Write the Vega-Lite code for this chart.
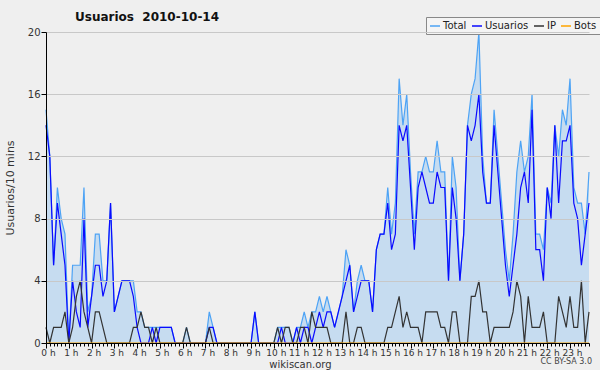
{
  "$schema": "https://vega.github.io/schema/vega-lite/v6.json",
  "autosize": "none",
  "width": 543,
  "height": 311,
  "padding": {"left": 46, "top": 32, "right": 11, "bottom": 27},
  "background": "#efefef",
  "config": {
    "view": {"stroke": null},
    "font": "DejaVu Sans",
    "axis": {"labelFont": "DejaVu Sans", "titleFont": "DejaVu Sans", "labelColor": "#333333", "titleColor": "#333333", "domainColor": "#000000", "tickColor": "#000000", "titleFontWeight": "normal"}
  },
  "title": {"text": "Usuarios\u00a0 2010-10-14", "anchor": "start", "frame": "group", "dx": 29, "dy": 17, "offset": 10, "fontSize": 12, "fontWeight": "bold", "font": "DejaVu Sans", "color": "#111111"},
  "datasets": {
    "serie": [
    {"i":0,"Total":15,"Usuarios":14,"IP":1,"Bots":0},{"i":1,"Total":12,"Usuarios":12,"IP":0,"Bots":0},{"i":2,"Total":5,"Usuarios":5,"IP":1,"Bots":0},{"i":3,"Total":10,"Usuarios":9,"IP":1,"Bots":0},{"i":4,"Total":8,"Usuarios":7,"IP":1,"Bots":0},{"i":5,"Total":7,"Usuarios":5,"IP":2,"Bots":0},{"i":6,"Total":0,"Usuarios":0,"IP":0,"Bots":0},{"i":7,"Total":5,"Usuarios":4,"IP":1,"Bots":0},{"i":8,"Total":5,"Usuarios":2,"IP":3,"Bots":0},{"i":9,"Total":5,"Usuarios":1,"IP":4,"Bots":0},
    {"i":10,"Total":10,"Usuarios":8,"IP":2,"Bots":0},{"i":11,"Total":2,"Usuarios":1,"IP":1,"Bots":0},{"i":12,"Total":3,"Usuarios":3,"IP":0,"Bots":0},{"i":13,"Total":7,"Usuarios":5,"IP":2,"Bots":0},{"i":14,"Total":7,"Usuarios":5,"IP":2,"Bots":0},{"i":15,"Total":4,"Usuarios":3,"IP":1,"Bots":0},{"i":16,"Total":4,"Usuarios":4,"IP":0,"Bots":0},{"i":17,"Total":9,"Usuarios":9,"IP":0,"Bots":0},{"i":18,"Total":2,"Usuarios":2,"IP":0,"Bots":0},{"i":19,"Total":3,"Usuarios":3,"IP":0,"Bots":0},
    {"i":20,"Total":4,"Usuarios":4,"IP":0,"Bots":0},{"i":21,"Total":4,"Usuarios":4,"IP":0,"Bots":0},{"i":22,"Total":4,"Usuarios":4,"IP":0,"Bots":0},{"i":23,"Total":4,"Usuarios":3,"IP":1,"Bots":0},{"i":24,"Total":2,"Usuarios":1,"IP":1,"Bots":0},{"i":25,"Total":2,"Usuarios":0,"IP":2,"Bots":0},{"i":26,"Total":1,"Usuarios":0,"IP":1,"Bots":0},{"i":27,"Total":1,"Usuarios":0,"IP":1,"Bots":0},{"i":28,"Total":1,"Usuarios":1,"IP":0,"Bots":0},{"i":29,"Total":1,"Usuarios":0,"IP":1,"Bots":0},
    {"i":30,"Total":1,"Usuarios":1,"IP":0,"Bots":0},{"i":31,"Total":1,"Usuarios":1,"IP":0,"Bots":0},{"i":32,"Total":1,"Usuarios":1,"IP":0,"Bots":0},{"i":33,"Total":1,"Usuarios":1,"IP":0,"Bots":0},{"i":34,"Total":0,"Usuarios":0,"IP":0,"Bots":0},{"i":35,"Total":0,"Usuarios":0,"IP":0,"Bots":0},{"i":36,"Total":0,"Usuarios":0,"IP":0,"Bots":0},{"i":37,"Total":1,"Usuarios":0,"IP":1,"Bots":0},{"i":38,"Total":0,"Usuarios":0,"IP":0,"Bots":0},{"i":39,"Total":0,"Usuarios":0,"IP":0,"Bots":0},
    {"i":40,"Total":0,"Usuarios":0,"IP":0,"Bots":0},{"i":41,"Total":0,"Usuarios":0,"IP":0,"Bots":0},{"i":42,"Total":0,"Usuarios":0,"IP":0,"Bots":0},{"i":43,"Total":2,"Usuarios":1,"IP":1,"Bots":0},{"i":44,"Total":1,"Usuarios":1,"IP":0,"Bots":0},{"i":45,"Total":0,"Usuarios":0,"IP":0,"Bots":0},{"i":46,"Total":0,"Usuarios":0,"IP":0,"Bots":0},{"i":47,"Total":0,"Usuarios":0,"IP":0,"Bots":0},{"i":48,"Total":0,"Usuarios":0,"IP":0,"Bots":0},{"i":49,"Total":0,"Usuarios":0,"IP":0,"Bots":0},
    {"i":50,"Total":0,"Usuarios":0,"IP":0,"Bots":0},{"i":51,"Total":0,"Usuarios":0,"IP":0,"Bots":0},{"i":52,"Total":0,"Usuarios":0,"IP":0,"Bots":0},{"i":53,"Total":0,"Usuarios":0,"IP":0,"Bots":0},{"i":54,"Total":0,"Usuarios":0,"IP":0,"Bots":0},{"i":55,"Total":2,"Usuarios":2,"IP":0,"Bots":0},{"i":56,"Total":0,"Usuarios":0,"IP":0,"Bots":0},{"i":57,"Total":0,"Usuarios":0,"IP":0,"Bots":0},{"i":58,"Total":0,"Usuarios":0,"IP":0,"Bots":0},{"i":59,"Total":0,"Usuarios":0,"IP":0,"Bots":0},
    {"i":60,"Total":0,"Usuarios":0,"IP":0,"Bots":0},{"i":61,"Total":1,"Usuarios":0,"IP":1,"Bots":0},{"i":62,"Total":1,"Usuarios":1,"IP":0,"Bots":0},{"i":63,"Total":1,"Usuarios":0,"IP":1,"Bots":0},{"i":64,"Total":1,"Usuarios":0,"IP":1,"Bots":0},{"i":65,"Total":0,"Usuarios":0,"IP":0,"Bots":0},{"i":66,"Total":1,"Usuarios":1,"IP":0,"Bots":0},{"i":67,"Total":1,"Usuarios":0,"IP":1,"Bots":0},{"i":68,"Total":2,"Usuarios":1,"IP":1,"Bots":0},{"i":69,"Total":1,"Usuarios":1,"IP":0,"Bots":0},
    {"i":70,"Total":2,"Usuarios":0,"IP":2,"Bots":0},{"i":71,"Total":2,"Usuarios":1,"IP":1,"Bots":0},{"i":72,"Total":3,"Usuarios":2,"IP":1,"Bots":0},{"i":73,"Total":2,"Usuarios":1,"IP":1,"Bots":0},{"i":74,"Total":3,"Usuarios":2,"IP":1,"Bots":0},{"i":75,"Total":2,"Usuarios":2,"IP":0,"Bots":0},{"i":76,"Total":1,"Usuarios":1,"IP":0,"Bots":0},{"i":77,"Total":2,"Usuarios":2,"IP":0,"Bots":0},{"i":78,"Total":3,"Usuarios":3,"IP":0,"Bots":0},{"i":79,"Total":6,"Usuarios":4,"IP":2,"Bots":0},
    {"i":80,"Total":5,"Usuarios":5,"IP":0,"Bots":0},{"i":81,"Total":2,"Usuarios":2,"IP":0,"Bots":0},{"i":82,"Total":4,"Usuarios":3,"IP":1,"Bots":0},{"i":83,"Total":5,"Usuarios":4,"IP":1,"Bots":0},{"i":84,"Total":4,"Usuarios":4,"IP":0,"Bots":0},{"i":85,"Total":4,"Usuarios":4,"IP":0,"Bots":0},{"i":86,"Total":2,"Usuarios":2,"IP":0,"Bots":0},{"i":87,"Total":6,"Usuarios":6,"IP":0,"Bots":0},{"i":88,"Total":7,"Usuarios":7,"IP":0,"Bots":0},{"i":89,"Total":7,"Usuarios":7,"IP":0,"Bots":0},
    {"i":90,"Total":10,"Usuarios":9,"IP":1,"Bots":0},{"i":91,"Total":7,"Usuarios":6,"IP":1,"Bots":0},{"i":92,"Total":9,"Usuarios":7,"IP":2,"Bots":0},{"i":93,"Total":17,"Usuarios":14,"IP":3,"Bots":0},{"i":94,"Total":14,"Usuarios":13,"IP":1,"Bots":0},{"i":95,"Total":16,"Usuarios":14,"IP":2,"Bots":0},{"i":96,"Total":11,"Usuarios":10,"IP":1,"Bots":0},{"i":97,"Total":7,"Usuarios":6,"IP":1,"Bots":0},{"i":98,"Total":11,"Usuarios":10,"IP":1,"Bots":0},{"i":99,"Total":11,"Usuarios":11,"IP":0,"Bots":0},
    {"i":100,"Total":12,"Usuarios":10,"IP":2,"Bots":0},{"i":101,"Total":11,"Usuarios":9,"IP":2,"Bots":0},{"i":102,"Total":11,"Usuarios":9,"IP":2,"Bots":0},{"i":103,"Total":13,"Usuarios":11,"IP":2,"Bots":0},{"i":104,"Total":11,"Usuarios":10,"IP":1,"Bots":0},{"i":105,"Total":11,"Usuarios":10,"IP":1,"Bots":0},{"i":106,"Total":4,"Usuarios":4,"IP":0,"Bots":0},{"i":107,"Total":12,"Usuarios":10,"IP":2,"Bots":0},{"i":108,"Total":10,"Usuarios":8,"IP":2,"Bots":0},{"i":109,"Total":4,"Usuarios":4,"IP":0,"Bots":0},
    {"i":110,"Total":7,"Usuarios":7,"IP":0,"Bots":0},{"i":111,"Total":14,"Usuarios":14,"IP":0,"Bots":0},{"i":112,"Total":16,"Usuarios":13,"IP":3,"Bots":0},{"i":113,"Total":17,"Usuarios":14,"IP":3,"Bots":0},{"i":114,"Total":20,"Usuarios":16,"IP":4,"Bots":0},{"i":115,"Total":12,"Usuarios":11,"IP":2,"Bots":0},{"i":116,"Total":9,"Usuarios":9,"IP":2,"Bots":0},{"i":117,"Total":9,"Usuarios":9,"IP":0,"Bots":0},{"i":118,"Total":15,"Usuarios":14,"IP":1,"Bots":0},{"i":119,"Total":12,"Usuarios":11,"IP":1,"Bots":0},
    {"i":120,"Total":9,"Usuarios":8,"IP":1,"Bots":0},{"i":121,"Total":6,"Usuarios":5,"IP":1,"Bots":0},{"i":122,"Total":4,"Usuarios":3,"IP":1,"Bots":0},{"i":123,"Total":7,"Usuarios":5,"IP":2,"Bots":0},{"i":124,"Total":11,"Usuarios":7,"IP":4,"Bots":0},{"i":125,"Total":13,"Usuarios":10,"IP":3,"Bots":0},{"i":126,"Total":11,"Usuarios":11,"IP":0,"Bots":0},{"i":127,"Total":12,"Usuarios":9,"IP":3,"Bots":0},{"i":128,"Total":16,"Usuarios":15,"IP":1,"Bots":0},{"i":129,"Total":7,"Usuarios":6,"IP":1,"Bots":0},
    {"i":130,"Total":7,"Usuarios":6,"IP":1,"Bots":0},{"i":131,"Total":6,"Usuarios":4,"IP":2,"Bots":0},{"i":132,"Total":10,"Usuarios":10,"IP":0,"Bots":0},{"i":133,"Total":9,"Usuarios":8,"IP":0,"Bots":0},{"i":134,"Total":14,"Usuarios":14,"IP":0,"Bots":0},{"i":135,"Total":12,"Usuarios":9,"IP":3,"Bots":0},{"i":136,"Total":15,"Usuarios":13,"IP":2,"Bots":0},{"i":137,"Total":14,"Usuarios":13,"IP":1,"Bots":0},{"i":138,"Total":17,"Usuarios":14,"IP":3,"Bots":0},{"i":139,"Total":10,"Usuarios":9,"IP":1,"Bots":0},
    {"i":140,"Total":9,"Usuarios":8,"IP":1,"Bots":0},{"i":141,"Total":9,"Usuarios":5,"IP":4,"Bots":0},{"i":142,"Total":7,"Usuarios":7,"IP":0,"Bots":0},{"i":143,"Total":11,"Usuarios":9,"IP":2,"Bots":0}
    ]
  },
  "data": {"name": "serie"},
  "encoding": {
    "x": {"field": "i", "type": "quantitative", "scale": {"domain": [0, 143], "nice": false, "zero": false},
      "axis": {"values": [0,1,2,3,4,5,6,7,8,9,10,11,12,13,14,15,16,17,18,19,20,21,22,23,24,25,26,27,28,29,30,31,32,33,34,35,36,37,38,39,40,41,42,43,44,45,46,47,48,49,50,51,52,53,54,55,56,57,58,59,60,61,62,63,64,65,66,67,68,69,70,71,72,73,74,75,76,77,78,79,80,81,82,83,84,85,86,87,88,89,90,91,92,93,94,95,96,97,98,99,100,101,102,103,104,105,106,107,108,109,110,111,112,113,114,115,116,117,118,119,120,121,122,123,124,125,126,127,128,129,130,131,132,133,134,135,136,137,138,139,140,141,142,143],
        "labelExpr": "datum.value % 6 == 0 ? (datum.value / 6) + ' h' : ''",
        "labelOverlap": false, "labelFlush": false, "labelBound": false, "labelSeparation": 0,
        "tickSize": {"condition": {"test": "datum.value % 6 == 0", "value": 5}, "value": 3},
        "labelFontSize": 9, "labelOffset": 2, "labelPadding": 0, "grid": false, "zindex": 2,
        "title": "wikiscan.org", "titleFontSize": 10, "titlePadding": 2, "titleX": 254}}
  },
  "layer": [
    {
      "mark": {"type": "area", "color": "#c6dcf0", "opacity": 1},
      "encoding": {
        "y": {"field": "Total", "type": "quantitative", "scale": {"domain": [0, 20], "nice": false},
          "axis": {"values": [0,1,2,3,4,5,6,7,8,9,10,11,12,13,14,15,16,17,18,19,20],
            "labelExpr": "datum.value % 4 == 0 ? datum.label : ''",
            "tickSize": {"condition": {"test": "datum.value % 4 == 0", "value": 5}, "value": 3},
            "grid": true, "gridColor": "#c8c8c8",
            "gridOpacity": {"condition": {"test": "datum.value % 4 == 0 && datum.value > 0", "value": 1}, "value": 0},
            "labelFontSize": 10, "labelPadding": 1, "labelOverlap": false, "zindex": 2,
            "title": "Usuarios/10 mins", "titleFontSize": 11, "titlePadding": 12}}
      }
    },
    {
      "transform": [{"fold": ["Total", "Usuarios", "IP", "Bots"], "as": ["serie", "valor"]}],
      "mark": {"type": "line", "strokeWidth": 1.2, "interpolate": "linear"},
      "encoding": {
        "y": {"field": "valor", "type": "quantitative"},
        "color": {"field": "serie", "type": "nominal",
          "scale": {"domain": ["Total", "Usuarios", "IP", "Bots"], "range": ["#4da3f5", "#0a0aff", "#333333", "#ffa500"]},
          "legend": {"title": null, "orient": "none", "legendX": 380, "legendY": -15, "direction": "horizontal",
            "symbolType": "stroke", "symbolSize": 100, "symbolStrokeWidth": 1.5, "labelFontSize": 10, "labelFont": "DejaVu Sans",
            "labelColor": "#222222", "labelOffset": 2, "columnPadding": 2, "padding": 3, "strokeColor": "#888888", "fillColor": "#f4f4f4"}},
        "order": {"field": "serie", "type": "nominal"}
      }
    },
    {
      "transform": [{"filter": "datum.i == 143"}],
      "mark": {"type": "text", "align": "right", "baseline": "middle", "fontSize": 8, "color": "#444444", "dx": 3},
      "encoding": {
        "y": {"datum": -1.2},
        "text": {"value": "CC BY-SA 3.0"}
      }
    }
  ]
}
